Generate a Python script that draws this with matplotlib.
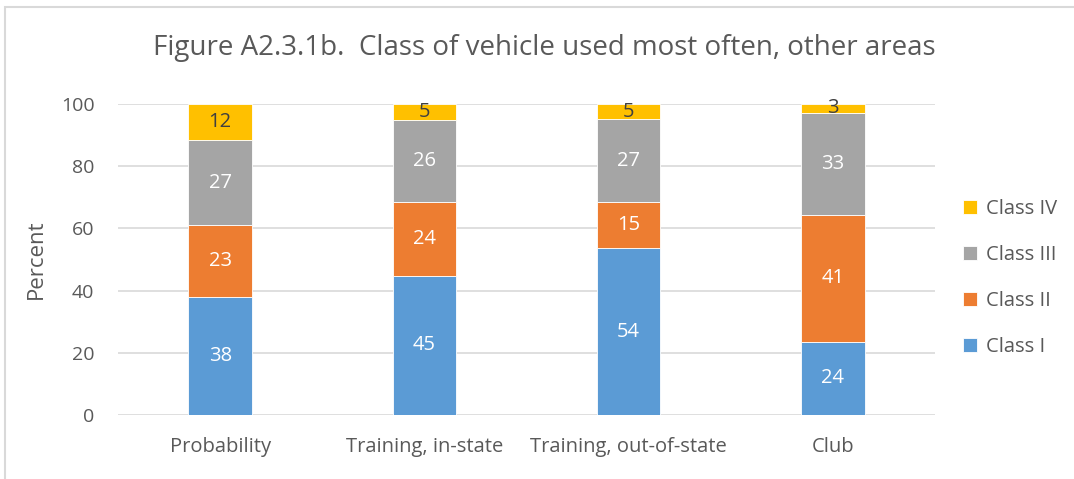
import numpy as np
import matplotlib.pyplot as plt
from matplotlib.patches import Rectangle

categories = ['Probability', 'Training, in-state', 'Training, out-of-state', 'Club']
series = ['Class I', 'Class II', 'Class III', 'Class IV']
class_1 = [37.8, 44.8, 53.6, 23.6]
class_2 = [23.2, 23.6, 14.9, 40.6]
class_3 = [27.3, 26.4, 26.6, 33.0]
class_4 = [11.7, 5.2, 4.9, 2.8]
colors = ['#5B9BD5', '#ED7D31', '#A5A5A5', '#FFC000']
label_colors = ['white', 'white', 'white', '#404040']

plt.rcParams['font.family'] = ['Open Sans', 'DejaVu Sans']
text_gray = '#595959'

fig = plt.figure(figsize=(10.74, 4.79), dpi=100)
ax = fig.add_axes([118 / 1074, 1 - 415 / 479, (935 - 118) / 1074, (415 - 104) / 479])

x = np.arange(len(categories))
bottom = np.zeros(len(categories))
handles = []
for name, vals, c, lc in zip(series, [class_1, class_2, class_3, class_4], colors, label_colors):
    vals = np.array(vals)
    bars = ax.bar(x, vals, 0.31, bottom=bottom, color=c, edgecolor='white', linewidth=0.6,
                  label=name, zorder=3)
    handles.append(bars)
    ax.bar_label(bars, labels=[f'{v:.0f}' for v in vals], label_type='center',
                 color=lc, fontsize=14.5)
    bottom += vals

ax.set_xlim(-0.5, 3.5)
ax.set_ylim(0, 100)
ax.set_yticks(range(0, 101, 20))
ax.set_xticks(x)
ax.set_xticklabels(categories)
ax.tick_params(axis='both', length=0, colors=text_gray)
ax.tick_params(axis='x', labelsize=14.5, pad=16)
ax.tick_params(axis='y', labelsize=14, pad=17)
ax.grid(axis='y', color='#D9D9D9', linewidth=1.2, zorder=0)
for s in ax.spines.values():
    s.set_visible(False)
ax.set_ylabel('Percent', fontsize=16, color=text_gray, labelpad=10)

fig.text(544 / 1074, 1 - 48 / 479, 'Figure A2.3.1b.  Class of vehicle used most often, other areas',
         ha='center', va='center', fontsize=20, color=text_gray)

leg = fig.legend(handles[::-1], series[::-1], loc='center left',
                 bbox_to_anchor=(945 / 1074, 1 - 278 / 479), frameon=False,
                 fontsize=14.5, labelcolor=text_gray, handlelength=0.7, handleheight=0.7,
                 labelspacing=1.3, handletextpad=0.45)

fig.patches.append(Rectangle((5 / 1074, -0.1), 1.2, 1 - 7 / 479 + 0.1, transform=fig.transFigure,
                             fill=False, edgecolor='#D9D9D9', linewidth=1.5))

fig.savefig('out.png', dpi=100)
